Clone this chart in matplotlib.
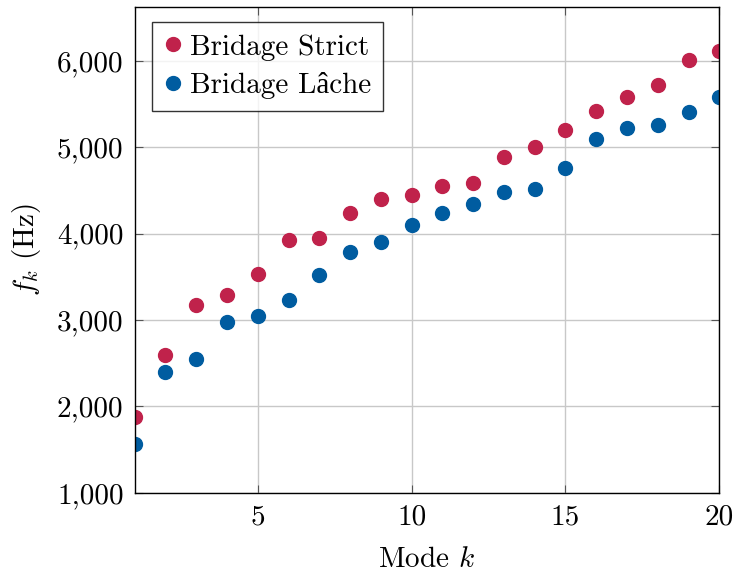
import matplotlib
matplotlib.use('Agg')
import matplotlib.pyplot as plt
from matplotlib.ticker import FuncFormatter

plt.rcParams['font.family'] = ['serif', 'Liberation Serif']
plt.rcParams['font.serif'] = ['cmr10']
plt.rcParams['mathtext.fontset'] = 'cm'
plt.rcParams['axes.unicode_minus'] = False

modes = list(range(1, 21))
strict = [1877, 2599, 3171, 3294, 3538, 3925, 3948, 4237, 4395, 4442,
          4546, 4589, 4886, 5006, 5199, 5419, 5581, 5721, 6014, 6115]
lache = [1561, 2399, 2553, 2981, 3051, 3229, 3523, 3785, 3905, 4094,
         4233, 4342, 4476, 4515, 4759, 5095, 5218, 5261, 5411, 5577]
labels = ['Bridage Strict', 'Bridage Lâche']

red = '#C0224B'
blue = '#005CA0'
fs = 21

fig = plt.figure(figsize=(7.36, 5.76), dpi=100)
ax = fig.add_axes([0.183, 0.1446, 0.7943, 0.8427])

ax.plot(modes, strict, 'o', color=red, markersize=10, label=labels[0])
ax.plot(modes, lache, 'o', color=blue, markersize=10, label=labels[1])

ax.set_xlim(1, 20)
ax.set_ylim(1000, 6620)
ax.set_xticks([5, 10, 15, 20])
ax.set_yticks([1000, 2000, 3000, 4000, 5000, 6000])
ax.yaxis.set_major_formatter(FuncFormatter(lambda v, p: f'{v:,.0f}'))
ax.grid(True, color='#c8c8c8', linewidth=1)
ax.set_axisbelow(True)
ax.tick_params(direction='in', top=True, right=True, length=6, width=0.8,
               labelsize=fs, color='#555555', pad=8)
for s in ax.spines.values():
    s.set_linewidth(1.0)

ax.set_xlabel('Mode $k$', fontsize=fs, labelpad=12)
ax.set_ylabel('$f_k$ (Hz)', fontsize=fs, labelpad=10)

leg = ax.legend(loc='upper left', bbox_to_anchor=(0.03, 0.969), fontsize=fs,
                frameon=True, fancybox=False, edgecolor='black',
                handlelength=0.6, handletextpad=0.3, borderpad=0.4,
                labelspacing=0.4, borderaxespad=0,
                prop={'family': ['cmr10', 'Liberation Serif'], 'size': fs})
leg.get_frame().set_linewidth(1.0)

fig.savefig('out.png', dpi=100)
